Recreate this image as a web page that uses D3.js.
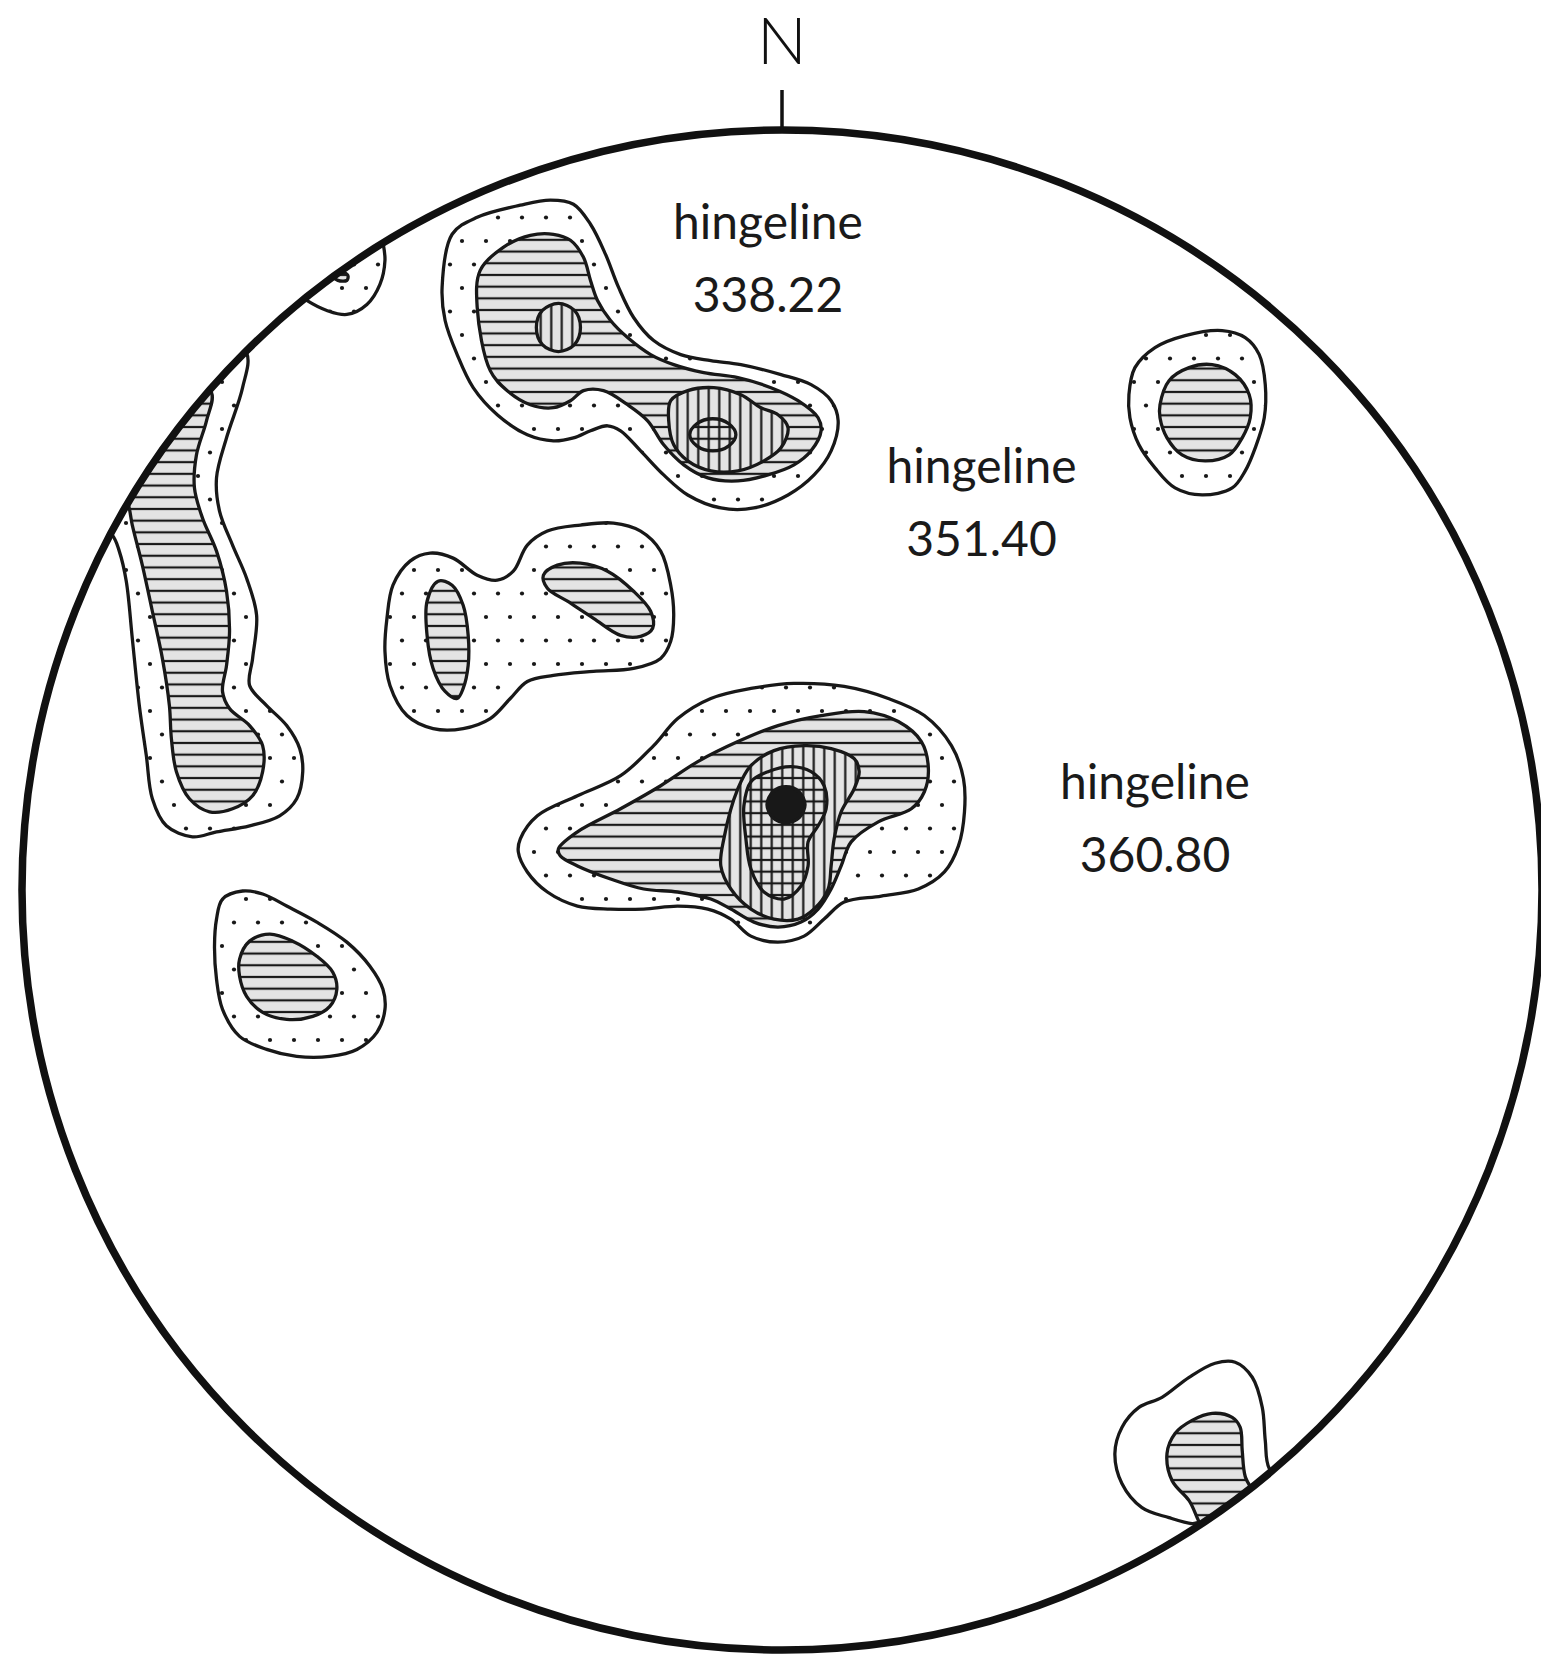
<!DOCTYPE html>
<html><head><meta charset="utf-8">
<script src="https://cdn.jsdelivr.net/npm/d3@7"></script>
<style>html,body{margin:0;padding:0;background:#fff;} svg{display:block}</style>
</head><body>
<script>
// Projected net coordinates (mm on a net of radius 75.8 mm), x = east, y = north.
const netRadius = 75.8;

// contour level 1 (stippled)
const level1 = [
  [[-33.9,60.1],[-32.9,65.4],[-30.4,67.1],[-26.1,68.3],[-23.1,68.8],[-20.8,68.4],[-19.1,66.4],[-17.6,63.4],[-16.3,60.1],[-14.8,57.1],[-12.8,54.8],[-10.1,53.4],[-7.1,52.8],[-4.1,52.4],[-0.1,51.4],[2.9,50.4],[4.9,48.8],[5.6,46.8],[4.9,43.8],[3.2,41.4],[0.6,39.4],[-2.8,38.1],[-6.1,38.1],[-9.4,39.4],[-11.8,41.4],[-14.1,43.8],[-16.1,45.8],[-17.4,46.3],[-19.1,45.8],[-20.8,45.1],[-22.8,44.8],[-25.4,45.4],[-28.4,47.4],[-30.8,50.1],[-32.4,53.4],[-33.6,56.8]],
  [[-26.1,5.1],[-24.4,7.4],[-20.4,9.4],[-16.1,11.4],[-12.8,14.4],[-10.4,17.1],[-7.1,19.1],[-3.1,20.1],[1.2,20.6],[6.2,20.3],[10.6,19.1],[14.2,17.4],[16.9,14.4],[18.1,11.1],[18.2,7.8],[17.6,4.4],[16.2,1.8],[13.6,0.1],[9.9,-0.6],[6.2,-1.2],[4.2,-2.9],[2.2,-4.6],[-0.4,-5.2],[-3.1,-4.6],[-5.1,-2.9],[-7.4,-1.9],[-10.4,-1.6],[-13.8,-1.9],[-17.1,-1.9],[-20.4,-1.6],[-23.4,-0.2],[-25.4,1.8],[-26.3,3.8]],
  [[-39.4,27.1],[-38.8,30.4],[-37.1,32.8],[-35.1,33.6],[-32.8,33.1],[-30.4,31.4],[-28.4,30.9],[-26.8,31.8],[-25.4,34.4],[-23.4,35.8],[-20.1,36.4],[-16.8,36.6],[-14.1,35.8],[-12.1,33.8],[-11.1,30.4],[-10.8,27.4],[-11.1,24.8],[-12.1,23.1],[-14.8,22.1],[-18.8,21.8],[-22.8,21.4],[-25.4,20.8],[-27.1,19.1],[-29.1,17.1],[-31.8,16.1],[-34.8,16.1],[-37.4,17.4],[-39.1,20.4],[-39.6,23.8]],
  [[-56.6,56.1],[-53.4,53.6],[-53.8,50.1],[-55.4,45.1],[-56.4,41.1],[-56.1,37.8],[-54.8,34.4],[-53.4,31.1],[-52.4,27.4],[-52.8,23.1],[-53.1,20.4],[-51.4,18.4],[-49.4,16.4],[-48.1,14.1],[-47.8,11.8],[-48.4,9.1],[-50.1,7.4],[-53.1,6.4],[-56.4,5.8],[-58.8,5.3],[-61.4,6.4],[-62.8,9.1],[-63.4,13.4],[-64.1,18.4],[-64.8,25.1],[-65.4,30.8],[-66.1,33.8],[-66.8,35.4],[-69.1,37.1],[-63.1,51.1]],
  [[-56.4,-2.9],[-55.8,-0.9],[-53.8,-0.1],[-51.8,-0.4],[-49.4,-1.6],[-46.4,-3.2],[-43.4,-5.2],[-41.1,-7.6],[-39.8,-9.9],[-39.6,-11.9],[-40.4,-14.2],[-42.4,-15.9],[-45.1,-16.6],[-48.4,-16.6],[-51.4,-15.9],[-54.1,-14.6],[-55.8,-11.9],[-56.4,-8.9],[-56.6,-5.6]],
  [[34.6,49.4],[35.2,52.1],[37.2,54.1],[40.2,55.3],[43.9,55.8],[46.2,55.1],[47.6,53.4],[48.2,50.4],[48.1,47.1],[47.2,44.1],[46.2,41.8],[44.9,40.1],[41.9,39.4],[39.2,40.1],[37.2,42.1],[35.6,44.4],[34.7,47.1]],
  [[-47.4,58.8],[-45.4,57.8],[-43.4,57.4],[-41.4,58.4],[-40.1,60.4],[-39.6,62.8],[-39.8,64.6],[-40.1,66.1],[-49.1,60.1]]
];
// contour level 1 drawn without stipple (south-east margin)
const level1Plain = [
  [[48.6,-57.7],[48.2,-54.9],[47.9,-51.6],[46.9,-48.6],[45.2,-47.1],[43.2,-47.2],[40.6,-48.6],[37.9,-50.6],[35.6,-51.6],[33.9,-53.6],[33.2,-56.2],[33.9,-59.2],[35.9,-61.6],[38.6,-62.6],[40.9,-63.2],[41.9,-63.1],[44.9,-66.9],[50.9,-59.9]]
];

// contour level 2 (horizontal ruling)
const level2 = [
  [[-30.4,58.1],[-30.1,61.8],[-27.8,64.1],[-25.1,65.3],[-22.8,65.4],[-21.1,64.8],[-19.8,63.1],[-19.1,60.8],[-18.4,58.8],[-17.1,56.8],[-15.4,55.1],[-13.1,53.4],[-10.8,52.4],[-7.8,51.6],[-4.4,51.1],[-1.1,50.1],[1.6,48.8],[3.6,47.1],[3.9,45.8],[2.9,43.8],[1.2,42.4],[-1.4,41.4],[-4.4,40.8],[-7.4,41.1],[-9.8,42.4],[-11.8,44.4],[-13.4,46.8],[-15.4,48.4],[-17.8,49.8],[-19.8,49.8],[-21.1,48.8],[-22.8,48.1],[-25.1,48.4],[-27.4,49.8],[-29.1,51.8]],
  [[-22.3,4.1],[-20.4,5.8],[-16.1,8.1],[-12.1,10.4],[-8.4,12.8],[-4.4,14.8],[-0.4,16.4],[3.9,17.4],[8.2,17.8],[11.6,16.8],[13.9,14.8],[14.6,12.1],[14.2,9.8],[12.9,8.1],[9.6,6.8],[6.9,4.8],[5.9,2.4],[4.9,0.1],[3.6,-1.9],[1.9,-3.2],[-0.4,-3.7],[-2.8,-3.2],[-5.1,-1.9],[-7.1,-0.9],[-10.4,-0.2],[-13.8,0.1],[-17.1,1.1],[-20.4,2.4],[-22.1,3.4]],
  [[-34.3,30.8],[-32.9,30.4],[-31.8,28.4],[-31.3,25.4],[-31.3,22.4],[-31.8,20.1],[-32.4,19.1],[-33.6,19.8],[-34.8,22.1],[-35.4,25.4],[-35.4,28.8]],
  [[-23.8,31.4],[-22.4,32.4],[-20.1,32.6],[-17.4,31.8],[-14.8,29.8],[-13.1,27.8],[-12.9,26.1],[-14.1,25.3],[-16.1,25.4],[-18.8,27.1],[-21.4,28.8],[-23.4,30.1]],
  [[-59.1,51.1],[-56.9,49.6],[-57.4,46.8],[-58.4,43.4],[-58.6,40.1],[-57.8,37.1],[-56.4,33.8],[-55.4,29.8],[-55.1,25.8],[-55.4,22.4],[-55.8,19.8],[-55.1,18.1],[-53.1,16.4],[-51.8,14.4],[-51.8,11.8],[-52.8,9.4],[-54.8,8.1],[-57.1,7.8],[-59.1,9.1],[-60.4,11.8],[-60.9,15.1],[-61.1,18.4],[-61.8,23.1],[-62.8,27.8],[-63.8,32.4],[-64.8,36.4],[-65.3,38.8],[-67.1,42.1],[-63.1,47.1]],
  [[-54.1,-6.9],[-53.1,-5.1],[-51.1,-4.4],[-48.8,-5.1],[-46.4,-6.6],[-44.8,-8.2],[-44.4,-9.9],[-45.1,-11.6],[-46.8,-12.6],[-49.4,-12.9],[-51.8,-12.2],[-53.4,-10.6],[-54.1,-8.6]],
  [[37.7,48.4],[38.6,50.8],[40.6,52.1],[42.9,52.4],[45.2,51.4],[46.6,49.4],[46.7,47.1],[45.9,45.1],[44.6,43.4],[42.2,42.8],[39.9,43.4],[38.4,45.1],[37.7,47.1]],
  [[38.4,-56.2],[39.2,-54.2],[40.9,-52.9],[42.9,-52.2],[44.9,-52.6],[45.7,-53.6],[45.9,-55.9],[46.2,-58.5],[47.5,-61.5],[42.5,-64.0],[40.6,-60.9],[38.9,-58.9]],
  [[-44.9,61.3],[-43.9,61.6],[-43.3,61.3],[-43.4,60.8],[-44.3,60.8]]
];

// contour level 3 (vertical ruling)
const level3 = [
  [[-20.1,56.1],[-20.7,57.8],[-22.3,58.5],[-23.9,57.8],[-24.5,56.1],[-23.9,54.4],[-22.3,53.7],[-20.7,54.4]],
  [[-11.3,46.8],[-11.1,48.8],[-9.4,49.8],[-6.8,50.1],[-4.1,49.4],[-2.1,48.1],[-0.4,47.4],[0.6,46.1],[-0.1,44.1],[-1.8,42.8],[-4.4,41.8],[-7.1,41.8],[-9.4,42.8],[-10.8,44.4]],
  [[-6.1,2.4],[-5.8,5.1],[-4.4,10.1],[-3.1,12.4],[-0.8,13.9],[2.2,14.4],[4.9,14.1],[7.2,13.1],[7.7,11.8],[7.2,10.1],[5.9,7.8],[5.2,5.1],[4.9,2.4],[4.6,0.1],[3.2,-1.9],[1.6,-2.9],[-0.8,-2.9],[-3.1,-1.9],[-5.1,0.1]]
];

// contour level 4 (cross ruling)
const level4 = [
  [[-4.6,45.4],[-5.3,46.5],[-6.9,47.0],[-8.5,46.5],[-9.2,45.4],[-8.5,44.3],[-6.9,43.8],[-5.3,44.3]],
  [[-3.8,8.4],[-3.1,10.8],[-1.4,11.8],[0.9,12.3],[2.9,11.8],[4.2,10.4],[4.4,8.1],[3.6,6.4],[2.6,4.8],[2.6,2.4],[1.9,0.4],[0.2,-0.9],[-1.8,-0.2],[-3.1,2.1],[-3.6,5.1]]
];

// contour level 5 (solid)
const level5 = [
  [[2.3,8.5],[1.7,9.8],[0.4,10.3],[-0.9,9.8],[-1.5,8.5],[-0.9,7.2],[0.4,6.7],[1.7,7.2]]
];

const labelNames = ["hingeline", "hingeline", "hingeline"];
const labelValues = ["338.22", "351.40", "360.80"];
const labelAnchors = [[-1.4, 64.9], [19.9, 40.6], [37.2, 9.1]];
const northLabel = "N";

// ---------- drawing ----------
const W = 1541, H = 1659;
const cx = 782, cy = 890, R = 760;
const x = d3.scaleLinear().domain([-netRadius, netRadius]).range([cx - R, cx + R]);
const y = d3.scaleLinear().domain([-netRadius, netRadius]).range([cy + R, cy - R]);

const svg = d3.select("body").append("svg").attr("width", W).attr("height", H);
svg.append("rect").attr("width", W).attr("height", H).attr("fill", "#fff");
const defs = svg.append("defs");

const ink = "#181818", hatchBg = "#e4e4e4";
const hs = 11.7, vs = 10.5, hw = 2.2;

let p = defs.append("pattern").attr("id", "dots").attr("patternUnits", "userSpaceOnUse")
  .attr("width", 24).attr("height", 47);
p.append("rect").attr("width", 24).attr("height", 47).attr("fill", "#fff");
p.append("circle").attr("cx", 6).attr("cy", 6).attr("r", 2.1).attr("fill", ink);
p.append("circle").attr("cx", 18).attr("cy", 29.5).attr("r", 2.1).attr("fill", ink);

p = defs.append("pattern").attr("id", "hl").attr("patternUnits", "userSpaceOnUse")
  .attr("width", 20).attr("height", hs);
p.append("rect").attr("width", 20).attr("height", hs).attr("fill", hatchBg);
p.append("line").attr("x1", 0).attr("x2", 20).attr("y1", hs / 2).attr("y2", hs / 2)
  .attr("stroke", ink).attr("stroke-width", hw);

p = defs.append("pattern").attr("id", "vl").attr("patternUnits", "userSpaceOnUse")
  .attr("width", vs).attr("height", 20);
p.append("rect").attr("width", vs).attr("height", 20).attr("fill", hatchBg);
p.append("line").attr("y1", 0).attr("y2", 20).attr("x1", vs / 2).attr("x2", vs / 2)
  .attr("stroke", ink).attr("stroke-width", hw);

p = defs.append("pattern").attr("id", "grid").attr("patternUnits", "userSpaceOnUse")
  .attr("width", vs).attr("height", hs);
p.append("rect").attr("width", vs).attr("height", hs).attr("fill", hatchBg);
p.append("line").attr("x1", 0).attr("x2", vs).attr("y1", hs / 2).attr("y2", hs / 2)
  .attr("stroke", ink).attr("stroke-width", hw);
p.append("line").attr("y1", 0).attr("y2", hs).attr("x1", vs / 2).attr("x2", vs / 2)
  .attr("stroke", ink).attr("stroke-width", hw);

defs.append("clipPath").attr("id", "net").append("circle")
  .attr("cx", cx).attr("cy", cy).attr("r", R);

const line = d3.line().x(d => x(d[0])).y(d => y(d[1])).curve(d3.curveCatmullRomClosed.alpha(0.5));

const g = svg.append("g").attr("clip-path", "url(#net)");
const levels = [
  {data: level1, fill: "url(#dots)"},
  {data: level1Plain, fill: "#fff"},
  {data: level2, fill: "url(#hl)"},
  {data: level3, fill: "url(#vl)"},
  {data: level4, fill: "url(#grid)"},
  {data: level5, fill: ink}
];
levels.forEach((lv, i) => {
  g.append("g").selectAll("path").data(lv.data).join("path")
    .attr("d", line).attr("fill", lv.fill)
    .attr("stroke", ink).attr("stroke-width", 3.3).attr("stroke-linejoin", "round");
});

// primitive circle
svg.append("circle").attr("cx", cx).attr("cy", cy).attr("r", R)
  .attr("fill", "none").attr("stroke", "#111").attr("stroke-width", 7.5);

// north tick and label
svg.append("line").attr("x1", x(0)).attr("x2", x(0)).attr("y1", y(netRadius) - 40).attr("y2", y(netRadius))
  .attr("stroke", "#111").attr("stroke-width", 3.5);
svg.append("text").attr("x", x(0)).attr("y", y(netRadius) - 66).attr("text-anchor", "middle")
  .attr("font-family", "Lato, 'DejaVu Sans', sans-serif").attr("font-weight", 300)
  .attr("font-size", 66).attr("fill", "#111").text(northLabel);

// labels
const lab = svg.append("g").attr("font-family", "Lato, 'DejaVu Sans', sans-serif")
  .attr("font-size", 48).attr("fill", "#1a1a1a").attr("text-anchor", "middle");
labelAnchors.forEach((a, i) => {
  lab.append("text").attr("x", x(a[0])).attr("y", y(a[1])).text(labelNames[i]);
  lab.append("text").attr("x", x(a[0])).attr("y", y(a[1]) + 73).text(labelValues[i]);
});
</script>
</body></html>
